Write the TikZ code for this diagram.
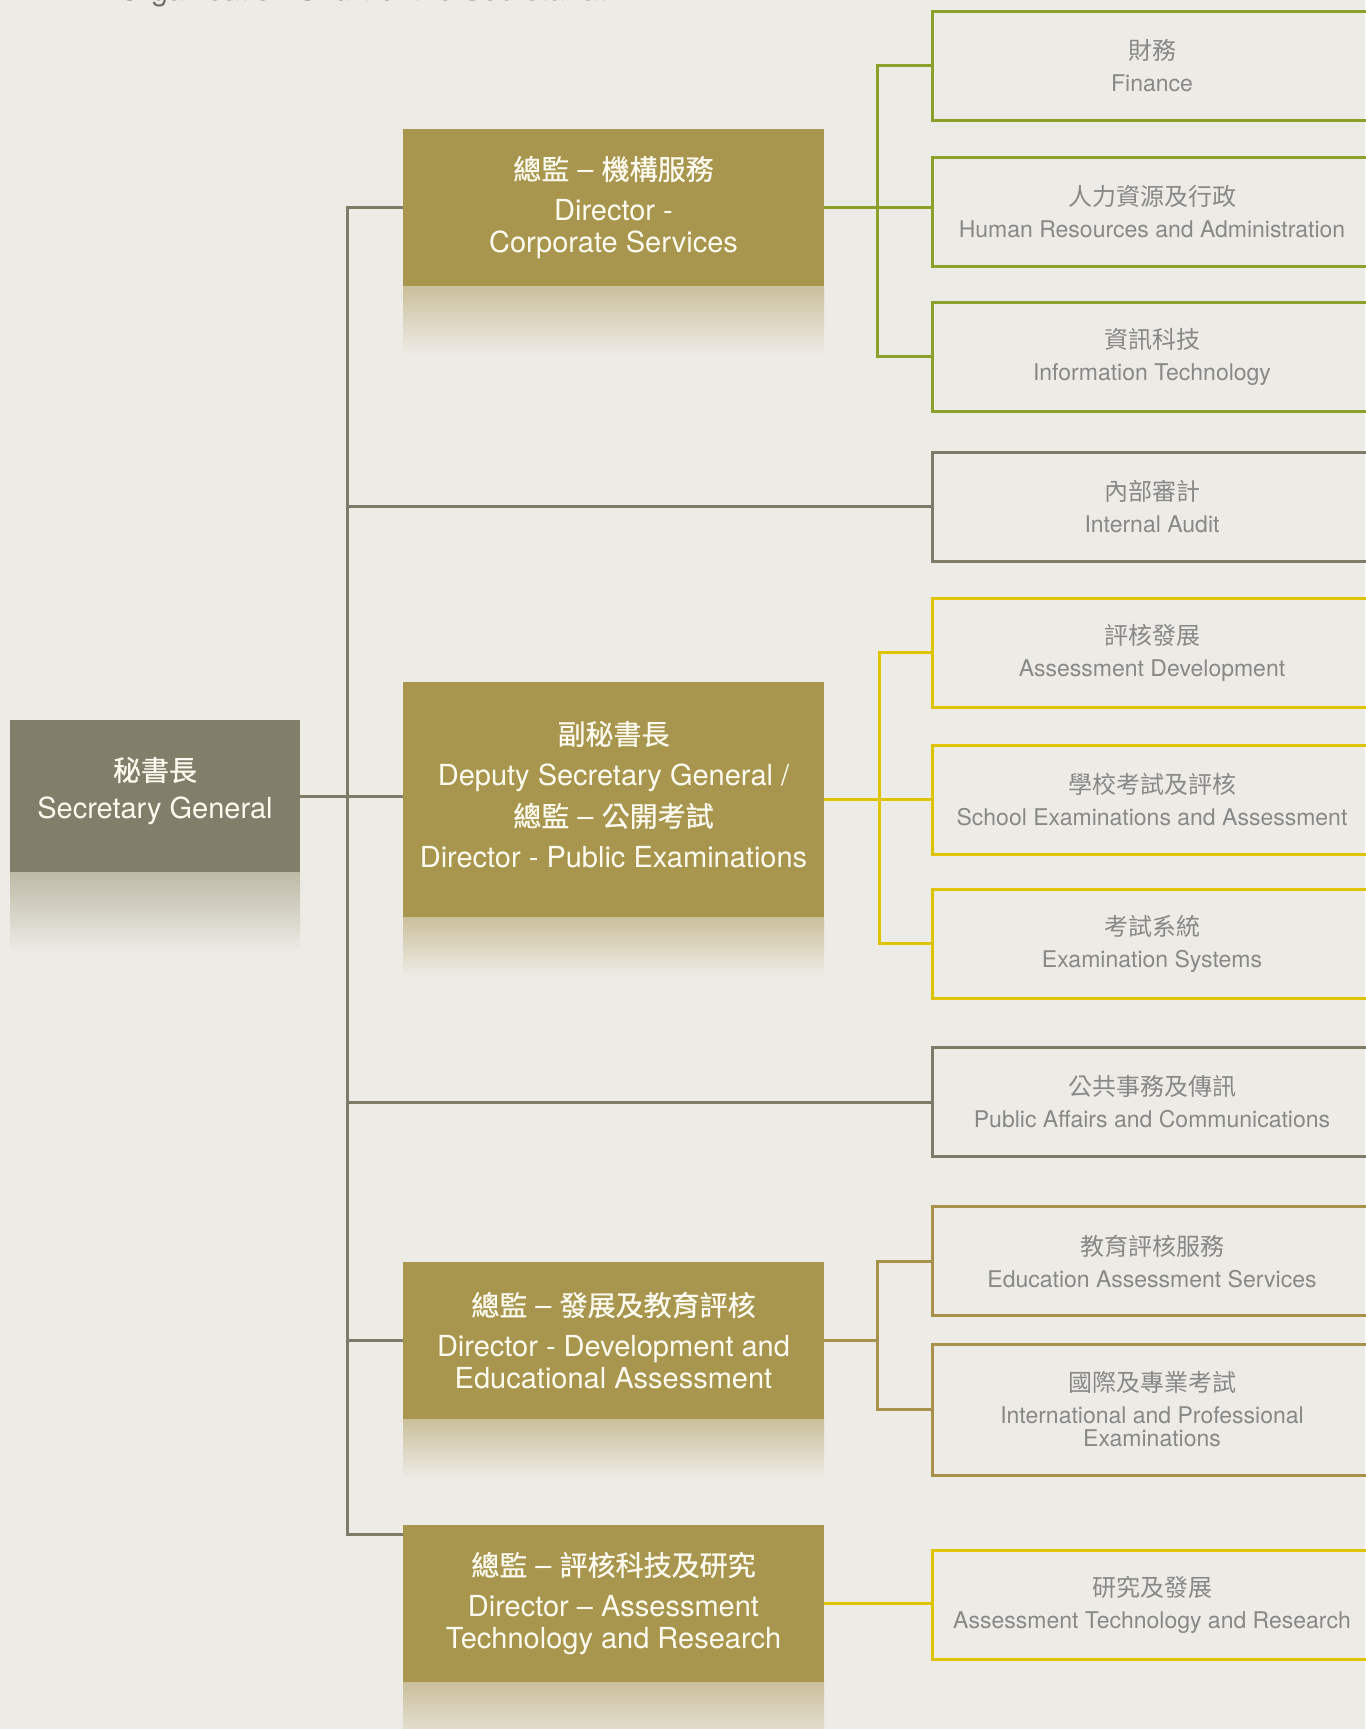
\documentclass[tikz,border=0pt]{standalone}
\usepackage{fontspec}
\setmainfont{TeX Gyre Heros}
\newfontfamily\cjk{Noto Sans CJK TC}
\newfontfamily\cjkm[FakeBold=0.7]{Noto Sans CJK TC}
\definecolor{bg}{HTML}{EDEBE6}
\definecolor{gold}{HTML}{A9964E}
\definecolor{goldfade}{HTML}{CBC09C}
\definecolor{sgc}{HTML}{817F6A}
\definecolor{sgfade}{HTML}{BDBAA6}
\definecolor{trunkc}{HTML}{7E7C68}
\definecolor{greenc}{HTML}{8BA02A}
\definecolor{yelc}{HTML}{DDC300}
\definecolor{olvc}{HTML}{A8914B}
\definecolor{rtext}{HTML}{888886}
\definecolor{wtext}{HTML}{FDFBF0}
\definecolor{titlec}{HTML}{6E6E6C}
\newcommand\gch[1]{{\cjkm\fontsize{28}{41}\selectfont #1}}
\newcommand\rch[1]{{\cjk\fontsize{24}{32}\selectfont #1}}
\tikzset{
  gbox/.style={fill=gold, text=wtext, minimum width=421pt, minimum height=157pt, inner sep=0pt, align=center, font=\fontsize{29}{41}\selectfont},
  sgbox/.style={gbox, fill=sgc, minimum width=290pt, minimum height=152pt},
  gtext/.style={text=wtext, inner sep=0pt, align=center, font=\fontsize{29}{41}\selectfont},
  rbox/.style={draw, line width=3pt, minimum width=440pt, minimum height=109pt, inner sep=0pt, align=center, text=rtext, font=\fontsize{23}{32}\selectfont},
  link/.style={line width=3pt},
  gfade/.style={top color=goldfade, bottom color=bg},
  sfade/.style={top color=sgfade, bottom color=bg},
}
\begin{document}
\begin{tikzpicture}[x=1pt,y=-1pt]
\fill[bg] (0,0) rectangle (1365,1729);
\useasboundingbox (0,0) rectangle (1365,1729);
% title, cut off at the top edge as in the reference
\node[anchor=base west, inner sep=0pt, text=titlec, font=\fontsize{30}{36}\selectfont] (title) at (118,1) {Organisation Chart of the Secretariat};
% fades below boxes
\fill[sfade] (10,872) rectangle (300,952);
\fill[gfade] (403,286) rectangle (824,356);
\fill[gfade] (403,917) rectangle (824,977);
\fill[gfade] (403,1419) rectangle (824,1479);
\fill[gfade] (403,1682) rectangle (824,1752);
% main boxes
\node[sgbox] (sg) at (155,796) {};
\node[gtext] (sgt) at ([yshift=5pt]sg.center) {\gch{秘書長}\\[-3pt]Secretary General};
\node[gbox] (corp) at (613.5,207.5) {\gch{總監} – \gch{機構服務}\\Director -\\[-9pt]Corporate Services};
\node[gbox, minimum height=235pt] (dsg) at (613.5,799.5) {};
\node[gtext] (dsgt) at ([yshift=5pt]dsg.center) {\gch{副秘書長}\\Deputy Secretary General /\\\gch{總監} – \gch{公開考試}\\Director - Public Examinations};
\node[gbox] (dea) at (613.5,1340.5) {\gch{總監} – \gch{發展及教育評核}\\Director - Development and\\[-9pt]Educational Assessment};
\node[gbox] (atr) at (613.5,1603.5) {\gch{總監} – \gch{評核科技及研究}\\Director – Assessment\\[-9pt]Technology and Research};
% right boxes
\node[rbox, draw=greenc] (fin) at (1152,65.5) {\rch{財務}\\Finance};
\node[rbox, draw=greenc] (hr) at (1152,211.5) {\rch{人力資源及行政}\\Human Resources and Administration};
\node[rbox, draw=greenc] (it) at (1152,356.5) {\rch{資訊科技}\\Information Technology};
\node[rbox, draw=trunkc] (ia) at (1152,506.5) {\rch{內部審計}\\Internal Audit};
\node[rbox, draw=yelc] (ad) at (1152,652.5) {\rch{評核發展}\\Assessment Development};
\node[rbox, draw=yelc] (se) at (1152,800) {\rch{學校考試及評核}\\School Examinations and Assessment};
\node[rbox, draw=yelc] (es) at (1152,943.5) {\rch{考試系統}\\Examination Systems};
\node[rbox, draw=trunkc] (pa) at (1152,1102) {\rch{公共事務及傳訊}\\Public Affairs and Communications};
\node[rbox, draw=olvc] (eas) at (1152,1261) {\rch{教育評核服務}\\Education Assessment Services};
\node[rbox, draw=olvc, minimum height=131pt] (ipe) at (1152,1409.5) {\rch{國際及專業考試}\\International and Professional\\[-9pt]Examinations};
\node[rbox, draw=yelc] (rd) at (1152,1604.5) {\rch{研究及發展}\\Assessment Technology and Research};
% bus coordinates
\coordinate (tk) at (347,0);
\coordinate (gb) at (877,0);
\coordinate (yb) at (879,0);
\coordinate (atrjoin) at (403,1534);
% trunk
\draw[link, trunkc] (corp.west) -- (corp.west -| tk) -- (tk |- atrjoin) -- (atrjoin);
\draw[link, trunkc] (sg.east) -- (sg.east -| dsg.west);
\draw[link, trunkc] (tk |- ia.west) -- (ia.west);
\draw[link, trunkc] (tk |- pa.west) -- (pa.west);
\draw[link, trunkc] (tk |- dea.west) -- (dea.west);
% corporate services group
\draw[link, greenc] (corp.east) -- (corp.east -| hr.west);
\draw[link, greenc] (fin.west) -- (fin.west -| gb) -- (gb |- it.west) -- (it.west);
% public examinations group
\draw[link, yelc] (dsg.east) -- (dsg.east -| se.west);
\draw[link, yelc] (ad.west) -- (ad.west -| yb) -- (yb |- es.west) -- (es.west);
% development group
\draw[link, olvc] (dea.east) -- (dea.east -| gb);
\draw[link, olvc] (eas.west) -- (eas.west -| gb) -- (gb |- ipe.west) -- (ipe.west);
% research
\draw[link, yelc] (atr.east) -- (atr.east -| rd.west);
\end{tikzpicture}
\end{document}
